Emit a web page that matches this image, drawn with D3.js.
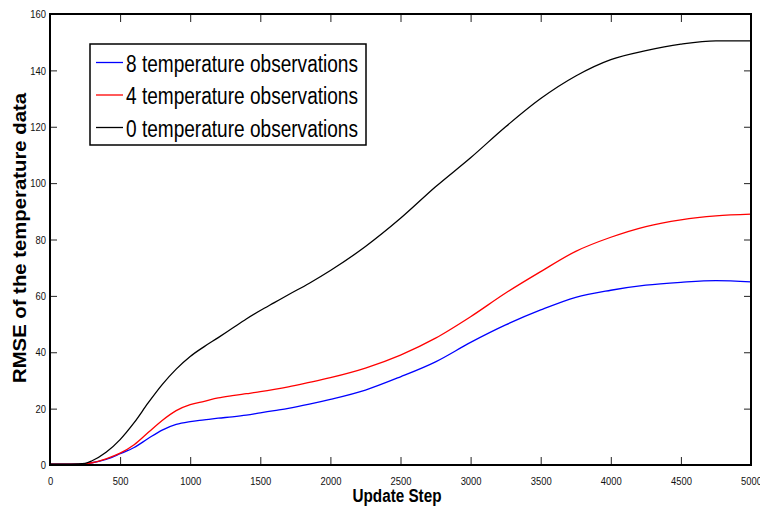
<!DOCTYPE html>
<html>
<head>
<meta charset="utf-8">
<script src="https://cdn.jsdelivr.net/npm/d3@7"></script>
<style>
  body { margin: 0; background: #fff; }
  text { font-family: "Liberation Sans", Arial, sans-serif; }
</style>
</head>
<body>
<div id="chart"></div>
<script>
// Chart dimensions
const width = 760;
const height = 508;
const margin = { top: 14, right: 9, bottom: 43, left: 50 };
const narrow = 0.82; // the reference uses a condensed face

// Data
const steps = [0, 100, 200, 250, 300, 400, 500, 600, 700, 800, 900, 1000, 1100, 1200, 1300, 1400,
  1500, 1600, 1700, 1850, 2000, 2250, 2500, 2750, 3000, 3250, 3500, 3750, 4000, 4250, 4500, 4750, 5000];
const obs8 = [0.3, 0.3, 0.3, 0.4, 0.8, 2, 4, 6.2, 9.4, 12.4, 14.4, 15.4, 16, 16.6, 17.1, 17.7,
  18.5, 19.3, 20.1, 21.6, 23.3, 26.6, 31.3, 36.6, 43.5, 49.7, 55, 59.5, 62, 63.8, 64.8, 65.4, 65];
const obs4 = [0.3, 0.3, 0.3, 0.4, 0.8, 2.2, 4.2, 7.2, 11.5, 15.8, 19.3, 21.4, 22.6, 23.8, 24.6, 25.3,
  26, 26.8, 27.7, 29.3, 31, 34.4, 39, 45, 52.6, 61, 68.6, 75.8, 80.8, 84.6, 87, 88.4, 89];
const obs0 = [0.3, 0.3, 0.4, 0.6, 1.5, 4.5, 9, 15, 22, 28.5, 34, 38.5, 42, 45.2, 48.5, 51.8,
  54.8, 57.6, 60.4, 64.5, 69, 77.5, 87.5, 98.7, 109, 120, 130, 138, 143.8, 147, 149.3, 150.5, 150.5];

const seriesNames = ["8 temperature observations", "4 temperature observations", "0 temperature observations"];
const seriesColors = ["#0000ff", "#ff0000", "#000000"];
const xTicks = [0, 500, 1000, 1500, 2000, 2500, 3000, 3500, 4000, 4500, 5000];
const yTicks = [0, 20, 40, 60, 80, 100, 120, 140, 160];

const series = [obs8, obs4, obs0];

const svg = d3.select("#chart")
  .append("svg")
  .attr("width", width)
  .attr("height", height);

svg.append("rect").attr("width", width).attr("height", height).attr("fill", "#fff");

const x = d3.scaleLinear().domain([0, 5000]).range([margin.left, width - margin.right]);
const y = d3.scaleLinear().domain([0, 160]).range([height - margin.bottom, margin.top]);

// Axes with inward ticks (bottom/left labelled, top/right mirrored)
const xAxis = svg.append("g")
  .attr("transform", `translate(0,${y(0)})`)
  .call(d3.axisBottom(x).tickValues(xTicks).tickSize(-8).tickPadding(12).tickFormat(d3.format("d")));
const xTop = svg.append("g")
  .attr("transform", `translate(0,${y(160)})`)
  .call(d3.axisTop(x).tickValues(xTicks).tickSize(-8).tickFormat(""));
const yAxis = svg.append("g")
  .attr("transform", `translate(${x(0)},0)`)
  .call(d3.axisLeft(y).tickValues(yTicks).tickSize(-7).tickPadding(4).tickFormat(d3.format("d")));
const yRight = svg.append("g")
  .attr("transform", `translate(${x(5000)},0)`)
  .call(d3.axisRight(y).tickValues(yTicks).tickSize(-7).tickFormat(""));

[xAxis, xTop, yAxis, yRight].forEach(g => {
  g.select(".domain").remove();
  g.selectAll(".tick line").attr("stroke", "#222").attr("stroke-width", 1);
});

// condensed tick labels
xAxis.selectAll(".tick text")
  .attr("font-size", 11.5).attr("fill", "#111")
  .attr("transform", `scale(${narrow},1)`);
yAxis.selectAll(".tick text")
  .attr("font-size", 11.5).attr("fill", "#111")
  .attr("x", -4 / narrow)
  .attr("transform", `scale(${narrow},1)`);

// Curves
const line = d3.line()
  .x((d, i) => x(steps[i]))
  .y(d => y(d))
  .curve(d3.curveMonotoneX);

svg.selectAll("path.series")
  .data(series)
  .enter()
  .append("path")
  .attr("class", "series")
  .attr("d", line)
  .attr("fill", "none")
  .attr("stroke", (d, i) => seriesColors[i])
  .attr("stroke-width", 1.3);

// Plot frame
svg.append("rect")
  .attr("x", x(0))
  .attr("y", y(160))
  .attr("width", x(5000) - x(0))
  .attr("height", y(0) - y(160))
  .attr("fill", "none")
  .attr("stroke", "#000")
  .attr("stroke-width", 2);

// Axis titles
svg.append("text")
  .attr("x", 397)
  .attr("y", 502)
  .attr("text-anchor", "middle")
  .attr("font-size", 18)
  .attr("font-weight", "bold")
  .attr("textLength", 89)
  .attr("lengthAdjust", "spacingAndGlyphs")
  .text("Update Step");

svg.append("text")
  .attr("transform", "translate(26,238) rotate(-90)")
  .attr("text-anchor", "middle")
  .attr("font-size", 17.5)
  .attr("font-weight", "bold")
  .attr("textLength", 290)
  .attr("lengthAdjust", "spacingAndGlyphs")
  .text("RMSE of the temperature data");

// Legend
const legend = svg.append("g");
legend.append("rect")
  .attr("x", 90).attr("y", 44)
  .attr("width", 276).attr("height", 101)
  .attr("fill", "#fff")
  .attr("stroke", "#000")
  .attr("stroke-width", 1.5);

const rows = legend.selectAll("g.row")
  .data(seriesNames)
  .enter()
  .append("g")
  .attr("class", "row")
  .attr("transform", (d, i) => `translate(0,${62.5 + i * 32.5})`);

rows.append("line")
  .attr("x1", 96).attr("x2", 123)
  .attr("stroke", (d, i) => seriesColors[i])
  .attr("stroke-width", 1.3);

rows.append("text")
  .attr("x", 126)
  .attr("y", 9)
  .attr("font-size", 23)
  .attr("textLength", 232)
  .attr("lengthAdjust", "spacingAndGlyphs")
  .text(d => d);
</script>
</body>
</html>
